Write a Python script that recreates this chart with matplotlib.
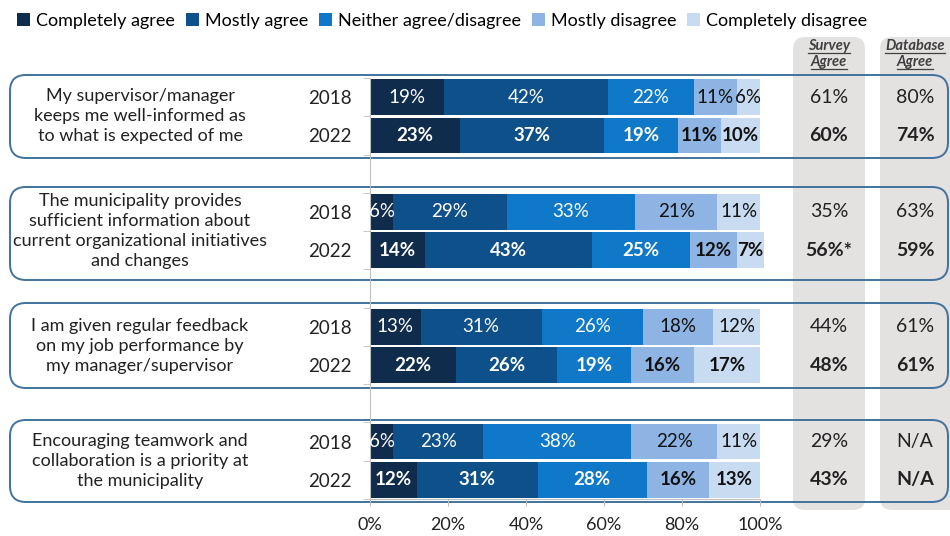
import matplotlib.pyplot as plt
import matplotlib.transforms as mtransforms
from matplotlib.patches import FancyBboxPatch
import numpy as np

plt.rcParams['font.family'] = ['Lato', 'DejaVu Sans']

# --- data ---
categories = ['Completely agree', 'Mostly agree', 'Neither agree/disagree',
              'Mostly disagree', 'Completely disagree']
questions = ['My supervisor/manager\nkeeps me well-informed as\nto what is expected of me',
             'The municipality provides\nsufficient information about\ncurrent organizational initiatives\nand changes',
             'I am given regular feedback\non my job performance by\nmy manager/supervisor',
             'Encouraging teamwork and\ncollaboration is a priority at\nthe municipality']
years = ['2018', '2022']
completely_agree = [19, 23, 6, 14, 13, 22, 6, 12]
mostly_agree = [42, 37, 29, 43, 31, 26, 23, 31]
neither = [22, 19, 33, 25, 26, 19, 38, 28]
mostly_disagree = [11, 11, 21, 12, 18, 16, 22, 16]
completely_disagree = [6, 10, 11, 7, 12, 17, 11, 13]
survey_agree = ['61%', '60%', '35%', '56%*', '44%', '48%', '29%', '43%']
database_agree = ['80%', '74%', '63%', '59%', '61%', '61%', 'N/A', 'N/A']

colors = ['#0f2c4c', '#0d508a', '#0f78c9', '#8eb4e3', '#c8dbf1']
label_colors = ['white', 'white', 'white', '#111111', '#111111']

W, H = 950, 536
fig = plt.figure(figsize=(W / 100, H / 100), dpi=100)

# background layer in pixel coordinates
deco = fig.add_axes([0, 0, 1, 1], zorder=0)
deco.set_xlim(0, W)
deco.set_ylim(H, 0)
deco.axis('off')

ax = fig.add_axes([370 / W, 1 - 499 / H, 390 / W, 421 / H], zorder=2)
ax.patch.set_alpha(0)

# rows: two years per question with a blank row between questions
rows = []
for q in range(len(questions)):
    rows += [3 * q, 3 * q + 1]
rows = np.array(rows)

series = [completely_agree, mostly_agree, neither, mostly_disagree, completely_disagree]
left = np.zeros(len(rows))
for name, vals, col, tc in zip(categories, series, colors, label_colors):
    vals = np.array(vals)
    ax.barh(rows, vals, left=left, height=0.93, color=col, label=name, clip_on=False)
    for k, (y, v, l) in enumerate(zip(rows, vals, left)):
        ax.text(l + v / 2, y, f'{v}%', ha='center', va='center', color=tc,
                fontsize=13.5, fontweight='bold' if k % 2 else 'normal')
    left += vals

ax.set_xlim(0, 100)
ax.set_ylim(rows.max() + 0.5, -0.5)
ax.set_xticks(range(0, 101, 20))
ax.set_xticklabels([f'{t}%' for t in range(0, 101, 20)])
ax.set_yticks(rows)
ax.set_yticklabels(years * len(questions))
ax.set_yticks(np.arange(-0.5, rows.max() + 1, 1), minor=True)
ax.tick_params(axis='y', which='major', length=0, pad=13, labelsize=13.5, labelcolor='#222222')
ax.tick_params(axis='y', which='minor', length=5, color='#bfbfbf')
ax.tick_params(axis='x', length=5, color='#bfbfbf', pad=8, labelsize=13, labelcolor='#222222')
for s in ['top', 'right']:
    ax.spines[s].set_visible(False)
for s in ['left', 'bottom']:
    ax.spines[s].set_color('#bfbfbf')

# legend across the top
fig.legend(loc='upper left', bbox_to_anchor=(0.005, 1.0), ncol=5, frameon=False,
           fontsize=13, handlelength=0.7, handleheight=0.7, handletextpad=0.35,
           columnspacing=0.6, borderaxespad=0.3)

# grey columns for the agree summaries
for x0, w in [(793, 72), (880, 80)]:
    deco.add_patch(FancyBboxPatch((x0, 37), w, 473, boxstyle='round,pad=0,rounding_size=12',
                                  fc='#e4e1e1', ec='none', zorder=1))

# rounded frames around each question
for top, bottom in [(75, 158), (187, 280), (303, 388), (420, 502)]:
    deco.add_patch(FancyBboxPatch((10, top), 938, bottom - top,
                                  boxstyle='round,pad=0,rounding_size=16',
                                  fc='none', ec='#41729c', lw=1.4, zorder=2))

mix = mtransforms.blended_transform_factory(deco.transData, ax.transData)

for q, text in enumerate(questions):
    deco.text(140, 3 * q + 0.5, text, transform=mix, ha='center', va='center',
              fontsize=13, color='#222222', linespacing=1.3)

for k, (y, s, d) in enumerate(zip(rows, survey_agree, database_agree)):
    w = 'bold' if k % 2 else 'normal'
    deco.text(829, y, s, transform=mix, ha='center', va='center', fontsize=14,
              fontweight=w, color='#222222')
    deco.text(915, y, d, transform=mix, ha='center', va='center', fontsize=14,
              fontweight=w, color='#222222')

# underlined column headers
renderer = fig.canvas.get_renderer()
for x, words in [(829, ['Survey', 'Agree']), (915, ['Database', 'Agree'])]:
    for y, word in zip([46, 62], words):
        t = deco.text(x, y, word, ha='center', va='center', fontsize=10.5,
                      fontweight='bold', fontstyle='italic', color='#404040')
        bb = t.get_window_extent(renderer).transformed(deco.transData.inverted())
        deco.plot([bb.x0, bb.x1], [y + 7, y + 7], color='#404040', lw=0.9)

fig.savefig('out.png', dpi=100)
